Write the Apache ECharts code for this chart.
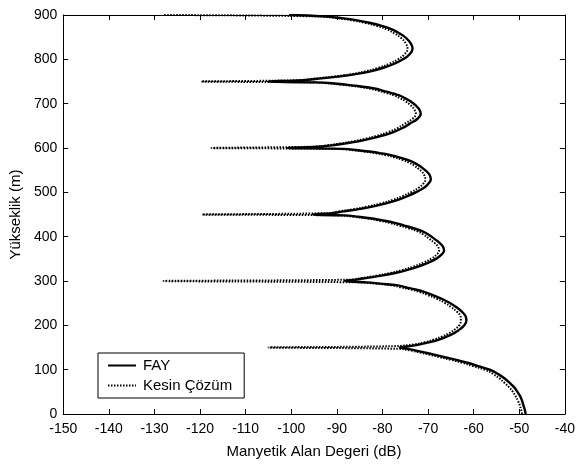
<!DOCTYPE html>
<html>
<head>
<meta charset="utf-8">
<script src="https://cdn.jsdelivr.net/npm/echarts@6/dist/echarts.min.js"></script>
<style>
html,body{margin:0;padding:0;background:#fff;}
#c{width:578px;height:464px;}
</style>
</head>
<body>
<div id="c"></div>
<script>
// Data: [field value (dB), height (m)]
const seriesNames = ['FAY', 'Kesin Çözüm'];
const xTicks = [-150, -140, -130, -120, -110, -100, -90, -80, -70, -60, -50, -40];
const yTicks = [0, 100, 200, 300, 400, 500, 600, 700, 800, 900];

const fay = [
  [-48.6,0],[-48.8,10],[-49.1,20],[-49.4,30],[-49.8,40],[-50.4,50],[-51.1,60],[-52.1,70],[-53.2,80],[-54.6,90],[-56.5,100],[-59.0,108],[-61.2,115],[-63.8,122],[-66.3,128],[-68.7,134],[-70.8,139],[-72.6,143],[-74.5,147],[-76.2,150],
  [-74.0,153],[-71.8,157],[-69.6,162],[-67.6,168],[-65.8,175],[-64.2,183],[-62.9,192],[-62.0,201],[-61.6,211],[-61.8,221],[-62.6,231],[-63.8,241],[-65.3,251],[-67.0,260],[-68.9,268],[-70.7,275],[-72.8,281],[-75.0,286],[-76.6,290],[-80.5,294],[-83.5,297],[-88.3,300],
  [-86.0,303],[-83.3,307],[-80.2,312],[-77.2,318],[-74.5,325],[-72.0,333],[-69.8,342],[-68.1,351],[-67.0,360],[-66.5,368],[-66.7,377],[-67.5,386],[-68.6,395],[-69.8,404],[-71.2,412],[-73.2,419],[-75.2,425],[-77.3,431],[-79.5,436],[-82.2,441],[-85.3,445],[-88.5,448],[-95.2,450],
  [-91.0,453],[-88.5,457],[-85.2,462],[-82.2,468],[-79.2,475],[-76.6,483],[-74.4,492],[-72.5,501],[-70.8,511],[-69.9,520],[-69.4,529],[-69.6,538],[-70.2,546],[-71.0,553],[-71.9,560],[-73.1,567],[-74.5,573],[-76.3,579],[-78.2,584],[-80.3,588],[-82.9,592],[-85.4,595],[-88.5,598],[-100.9,600],
  [-94.1,603],[-91.0,606],[-88.3,610],[-85.3,615],[-82.6,621],[-80.0,628],[-77.6,636],[-75.6,645],[-74.0,655],[-72.3,666],[-71.6,677],[-72.0,688],[-72.8,697],[-73.8,705],[-75.0,712],[-76.2,718],[-78.0,724],[-79.8,729],[-81.2,733],[-83.4,737],[-85.5,740],[-88.0,743],[-91.0,746],[-94.8,748],[-105.1,750],
  [-97.5,753],[-93.4,757],[-89.8,761],[-86.2,766],[-82.6,773],[-79.8,781],[-77.4,790],[-75.5,800],[-74.1,811],[-73.4,824],[-73.8,836],[-74.8,848],[-76.2,858],[-77.8,867],[-80.0,875],[-82.6,882],[-85.5,888],[-89.0,893],[-93.0,897],[-100.5,900]
];

const kesin = [
  [-49.4,0],[-49.6,10],[-49.9,20],[-50.3,30],[-50.8,40],[-51.4,50],[-52.2,60],[-53.2,70],[-54.3,80],[-55.7,90],[-57.6,100],[-60.2,108],[-62.3,115],[-64.9,122],[-67.4,128],[-69.8,134],[-71.9,139],[-73.7,143],[-76.5,147],[-105.0,150],
  [-77.5,153],[-73.0,157],[-70.7,162],[-68.7,168],[-66.9,175],[-65.3,183],[-64.0,192],[-63.1,201],[-62.8,211],[-62.9,221],[-63.7,231],[-64.9,241],[-66.4,251],[-68.1,260],[-70.0,268],[-71.8,275],[-73.9,281],[-76.1,286],[-77.8,290],[-81.5,294],[-85.5,297],[-128.0,300],[-87.0,303],
  [-84.4,307],[-81.3,312],[-78.3,318],[-75.6,325],[-73.1,333],[-70.9,342],[-69.2,351],[-68.1,360],[-67.6,368],[-67.8,377],[-68.6,386],[-69.7,395],[-70.9,404],[-72.3,412],[-74.3,419],[-76.3,425],[-78.4,431],[-80.6,436],[-83.3,441],[-86.4,445],[-89.5,448],[-119.5,450],[-92.0,453],
  [-89.6,457],[-86.3,462],[-83.3,468],[-80.3,475],[-77.7,483],[-75.5,492],[-73.6,501],[-72.0,511],[-71.0,520],[-70.6,529],[-70.8,538],[-71.3,546],[-72.1,553],[-73.0,560],[-74.2,567],[-75.6,573],[-77.4,579],[-79.3,584],[-81.4,588],[-84.0,592],[-86.5,595],[-90.0,598],[-117.5,600],[-95.0,603],
  [-92.1,606],[-89.4,610],[-86.4,615],[-83.7,621],[-81.1,628],[-78.7,636],[-76.7,645],[-75.1,655],[-73.4,666],[-72.7,677],[-73.1,688],[-73.9,697],[-74.9,705],[-76.1,712],[-77.3,718],[-79.1,724],[-80.9,729],[-82.3,733],[-84.5,737],[-86.6,740],[-89.1,743],[-92.1,746],[-95.8,748],[-119.7,750],[-98.0,753],
  [-94.5,757],[-90.9,761],[-87.3,766],[-83.7,773],[-80.9,781],[-78.5,790],[-76.6,800],[-75.2,811],[-74.5,824],[-74.9,836],[-75.9,848],[-77.3,858],[-78.9,867],[-81.1,875],[-83.7,882],[-86.6,888],[-90.1,893],[-94.5,897],[-128.0,900]
];

const FONT = 'Liberation Sans, Arial, sans-serif';
const chart = echarts.init(document.getElementById('c'), null, {renderer: 'canvas'});

const baseAxis = {
  axisLine: {show: true, onZero: false, lineStyle: {color: '#000', width: 1}},
  axisTick: {show: true, inside: true, length: 5, lineStyle: {color: '#000', width: 1}},
  splitLine: {show: false}
};

chart.setOption({
  animation: false,
  backgroundColor: '#fff',
  grid: {left: 63, right: 3, top: 15, bottom: 46, containLabel: false},
  legend: {
    left: 98, top: 353,
    orient: 'vertical',
    data: seriesNames,
    itemWidth: 28, itemHeight: 14, itemGap: 5,
    padding: [5, 12, 5, 9],
    borderColor: '#000', borderWidth: 1,
    backgroundColor: '#fff',
    itemStyle: {opacity: 0},
    textStyle: {color: '#000', fontSize: 15, fontFamily: FONT, padding: [0, 0, 0, 2]}
  },
  xAxis: [
    Object.assign({}, baseAxis, {
      type: 'value', min: xTicks[0], max: xTicks[xTicks.length - 1], interval: 10, position: 'bottom',
      name: 'Manyetik Alan Degeri (dB)', nameLocation: 'middle', nameGap: 30,
      nameTextStyle: {color: '#000', fontSize: 15, fontFamily: FONT},
      axisLabel: {color: '#000', fontSize: 14, fontFamily: FONT, margin: 8}
    }),
    Object.assign({}, baseAxis, {
      type: 'value', min: xTicks[0], max: xTicks[xTicks.length - 1], interval: 10, position: 'top',
      axisLabel: {show: false}
    })
  ],
  yAxis: [
    Object.assign({}, baseAxis, {
      type: 'value', min: yTicks[0], max: yTicks[yTicks.length - 1], interval: 100, position: 'left',
      name: 'Yükseklik (m)', nameLocation: 'middle', nameGap: 35,
      nameTextStyle: {color: '#000', fontSize: 15, fontFamily: FONT},
      axisLabel: {color: '#000', fontSize: 14, fontFamily: FONT, margin: 6}
    }),
    Object.assign({}, baseAxis, {
      type: 'value', min: yTicks[0], max: yTicks[yTicks.length - 1], interval: 100, position: 'right',
      axisLabel: {show: false}
    })
  ],
  series: [
    {
      name: seriesNames[0], type: 'line', data: fay, xAxisIndex: 0, yAxisIndex: 0,
      symbol: 'none', smooth: 0.4,
      lineStyle: {color: '#000', width: 2.4, type: 'solid'},
      itemStyle: {color: '#000'}
    },
    {
      name: seriesNames[1], type: 'line', data: kesin, xAxisIndex: 0, yAxisIndex: 0,
      symbol: 'none', smooth: 0.4,
      lineStyle: {color: '#000', width: 2, type: [1.5, 1.5]},
      itemStyle: {color: '#000'}
    }
  ]
});
</script>
</body>
</html>
